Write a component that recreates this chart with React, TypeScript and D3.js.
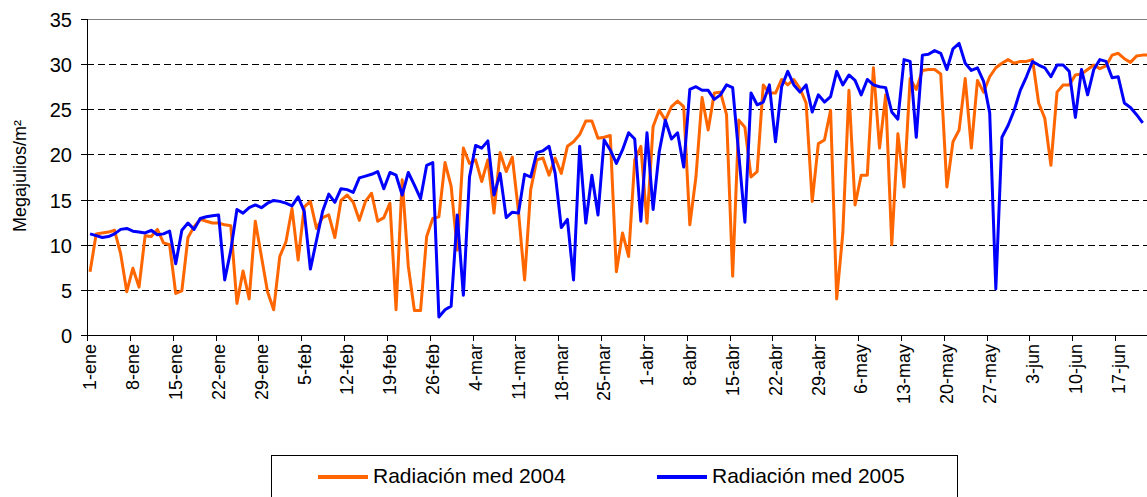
import { useRef, useEffect } from "react";
import * as d3 from "d3";

// daily categories, 1-ene 2004 onwards
const MONTHS = ["ene", "feb", "mar", "abr", "may", "jun"];
const START = new Date(2004, 0, 1);
const N_DAYS = 174;
const days = d3.timeDay.range(START, d3.timeDay.offset(START, N_DAYS));
const categories = days.map((d) => `${d.getDate()}-${MONTHS[d.getMonth()]}`);

const rad2004 = [
  7.0, 11.2, 11.3, 11.4, 11.6, 9.0, 4.8, 7.4, 5.3, 11.0, 10.9, 11.7, 10.2, 10.0,
  4.6, 4.9, 10.8, 12.0, 12.8, 12.6, 12.4, 12.4, 12.2, 12.1, 3.5, 7.1, 4.0, 12.6,
  8.7, 4.8, 2.8, 8.7, 10.3, 14.0, 8.3, 14.2, 14.8, 11.8, 13.0, 13.3, 10.8, 14.9,
  15.5, 14.7, 12.7, 14.8, 15.7, 12.6, 13.0, 14.6, 2.8, 17.2, 7.6, 2.7, 2.7, 10.9,
  12.9, 13.1, 19.1, 16.5, 9.4, 20.7, 19.0, 19.4, 17.0, 19.4, 13.5, 20.2, 18.1, 19.7,
  13.7, 6.1, 16.1, 19.4, 19.6, 17.7, 19.6, 17.9, 20.9, 21.4, 22.2, 23.7, 23.7, 21.8,
  21.9, 22.1, 7.0, 11.3, 8.7, 19.4, 20.9, 12.4, 23.1, 24.9, 23.8, 25.3, 25.9, 25.3,
  12.2, 17.5, 26.3, 22.7, 26.8, 26.9, 24.4, 6.5, 23.8, 23.0, 17.5, 18.1, 27.7, 26.8,
  26.8, 28.3, 27.7, 28.3, 27.3, 25.7, 14.8, 21.2, 21.6, 24.9, 4.0, 11.3, 27.1, 14.4,
  17.7, 17.7, 29.6, 20.7, 26.6, 10.0, 22.3, 16.4, 28.4, 27.2, 29.3, 29.4, 29.4, 28.9,
  16.4, 21.4, 22.7, 28.4, 20.7, 28.2, 26.9, 28.6, 29.6, 30.1, 30.5, 30.1, 30.3, 30.3,
  30.5, 25.7, 24.0, 18.8, 26.9, 27.7, 27.7, 28.8, 28.9, 29.4, 29.9, 29.5, 29.8, 31.0,
  31.2, 30.6, 30.2, 30.9, 31.0, 31.0,
];

const rad2005 = [
  11.2, 11.0, 10.8, 10.9, 11.2, 11.7, 11.8, 11.5, 11.4, 11.3, 11.6, 11.1, 11.2, 11.5,
  7.9, 11.6, 12.4, 11.7, 12.9, 13.1, 13.2, 13.3, 6.1, 9.4, 13.9, 13.5, 14.1, 14.4,
  14.1, 14.6, 14.9, 14.8, 14.6, 14.3, 15.3, 13.7, 7.3, 10.5, 13.7, 15.6, 14.7, 16.2,
  16.1, 15.8, 17.4, 17.6, 17.8, 18.1, 16.2, 18.0, 17.7, 15.5, 18.0, 16.6, 15.1, 18.8,
  19.1, 2.0, 2.8, 3.2, 13.3, 4.4, 17.5, 21.0, 20.7, 21.5, 15.5, 17.9, 13.0, 13.6,
  13.5, 17.8, 17.5, 20.2, 20.4, 20.9, 17.9, 11.9, 12.8, 6.1, 20.9, 12.4, 17.7, 13.3,
  21.6, 20.5, 19.0, 20.5, 22.4, 21.7, 12.6, 22.4, 13.9, 20.3, 23.8, 21.7, 22.4, 18.6,
  27.2, 27.5, 27.1, 27.1, 26.1, 26.6, 27.7, 27.4, 20.0, 12.5, 26.8, 25.5, 25.8, 27.7,
  21.4, 27.5, 29.2, 27.7, 26.9, 27.7, 24.7, 26.6, 25.8, 26.4, 29.2, 27.7, 28.8, 28.2,
  26.6, 28.3, 27.7, 27.5, 27.4, 24.7, 23.9, 30.5, 30.3, 21.9, 31.0, 31.1, 31.5, 31.2,
  29.4, 31.7, 32.3, 30.1, 29.3, 29.6, 28.1, 24.6, 5.1, 21.9, 23.2, 24.9, 27.1, 28.6,
  30.3, 29.9, 29.6, 28.6, 29.9, 29.9, 29.2, 24.1, 29.4, 26.6, 29.4, 30.5, 30.3, 28.5,
  28.6, 25.7, 25.2, 24.4, 23.5,
];

const yTicks = [0, 5, 10, 15, 20, 25, 30, 35];
const LABEL_EVERY = 7;

const series = [
  { name: "Radiación med 2004", values: rad2004, color: "#FF6600" },
  { name: "Radiación med 2005", values: rad2005, color: "#0000FF" },
];

const FONT = "'Liberation Sans', Arial, sans-serif";

export default function App() {
  const svgRef = useRef<SVGSVGElement | null>(null);

  useEffect(() => {
    const width = 1147;
    const height = 497;
    const svg = d3.select(svgRef.current);
    svg.selectAll("*").remove();
    svg.attr("width", width).attr("height", height);

    const left = 87;
    const top = 19;
    const bottom = 335;
    const right = left + 6.12 * N_DAYS;

    const x = d3.scaleBand<number>().domain(d3.range(N_DAYS)).range([left, right]);
    const y = d3.scaleLinear().domain([0, 35]).range([bottom, top]);
    const cx = (i: number) => (x(i) as number) + x.bandwidth() / 2;

    // gridlines
    svg.append("g")
      .selectAll("line")
      .data(yTicks.filter((t) => t > 0 && t < 35))
      .join("line")
      .attr("x1", left)
      .attr("x2", right)
      .attr("y1", (d) => Math.round(y(d)) + 0.5)
      .attr("y2", (d) => Math.round(y(d)) + 0.5)
      .attr("stroke", "#000")
      .attr("stroke-dasharray", "7,4");

    // plot border top
    svg.append("line")
      .attr("x1", left).attr("x2", right)
      .attr("y1", top + 0.5).attr("y2", top + 0.5)
      .attr("stroke", "#808080");

    // lines
    series.forEach((s) => {
      const line = d3.line<number>()
        .x((_, i) => cx(i))
        .y((d) => y(d));
      svg.append("path")
        .attr("d", line(s.values))
        .attr("fill", "none")
        .attr("stroke", s.color)
        .attr("stroke-width", 3)
        .attr("stroke-linejoin", "round");
    });

    // y axis
    const yAxis = svg.append("g").attr("font-family", FONT);
    yAxis.append("line")
      .attr("x1", left + 0.5).attr("x2", left + 0.5)
      .attr("y1", top).attr("y2", bottom)
      .attr("stroke", "#000");
    yTicks.forEach((t) => {
      const yy = Math.round(y(t)) + 0.5;
      yAxis.append("line")
        .attr("x1", left - 6).attr("x2", left)
        .attr("y1", yy).attr("y2", yy)
        .attr("stroke", "#000");
      yAxis.append("text")
        .attr("x", 72)
        .attr("y", yy)
        .attr("dy", "0.35em")
        .attr("text-anchor", "end")
        .attr("font-size", 20)
        .attr("fill", "#000")
        .text(t);
    });

    // x axis
    const xAxis = svg.append("g").attr("font-family", FONT);
    xAxis.append("line")
      .attr("x1", left).attr("x2", right)
      .attr("y1", bottom + 0.5).attr("y2", bottom + 0.5)
      .attr("stroke", "#000");
    d3.range(0, N_DAYS + 1, LABEL_EVERY).forEach((k) => {
      const xx = Math.round(left + x.step() * k) + 0.5;
      xAxis.append("line")
        .attr("x1", xx).attr("x2", xx)
        .attr("y1", bottom).attr("y2", bottom + 6)
        .attr("stroke", "#000");
    });
    d3.range(0, N_DAYS, LABEL_EVERY).forEach((i) => {
      xAxis.append("text")
        .attr("transform", `translate(${cx(i)},${bottom + 9}) rotate(-90)`)
        .attr("dy", "0.35em")
        .attr("text-anchor", "end")
        .attr("font-size", 18)
        .attr("fill", "#000")
        .text(categories[i]);
    });

    // y title
    svg.append("text")
      .attr("transform", `translate(20,176) rotate(-90)`)
      .attr("dy", "0.35em")
      .attr("text-anchor", "middle")
      .attr("font-family", FONT)
      .attr("font-size", 18)
      .attr("fill", "#000")
      .text("Megajulios/m²");

    // legend
    const lg = svg.append("g").attr("font-family", FONT);
    lg.append("rect")
      .attr("x", 271.5).attr("y", 455.5)
      .attr("width", 686).attr("height", 60)
      .attr("fill", "#fff")
      .attr("stroke", "#000");
    const legendX = [318, 657];
    series.forEach((s, i) => {
      lg.append("line")
        .attr("x1", legendX[i]).attr("x2", legendX[i] + 50)
        .attr("y1", 477).attr("y2", 477)
        .attr("stroke", s.color)
        .attr("stroke-width", 4);
      lg.append("text")
        .attr("x", legendX[i] + 55)
        .attr("y", 476)
        .attr("dy", "0.35em")
        .attr("font-size", 21)
        .attr("fill", "#000")
        .text(s.name);
    });
  }, []);

  return (
    <div style={{ position: "fixed", left: 0, top: 0, width: 1147, height: 497, overflow: "hidden", background: "#fff" }}>
      <svg ref={svgRef} style={{ display: "block" }} />
    </div>
  );
}
